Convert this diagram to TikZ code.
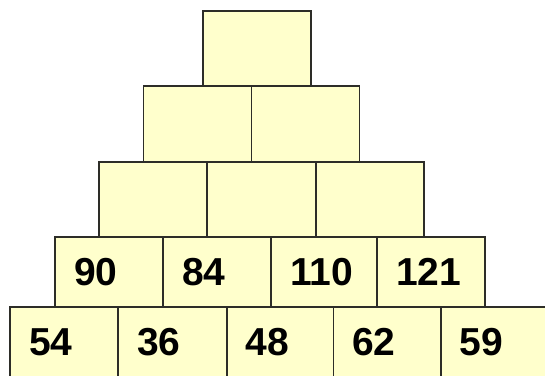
\documentclass[tikz,border=0pt]{standalone}
\usepackage{fontspec}
\setmainfont{Liberation Sans}
\definecolor{brickfill}{RGB}{255,255,204}
\definecolor{brickline}{RGB}{45,45,40}
\begin{document}
\begin{tikzpicture}[x=1pt,y=-1pt,
  brick/.style={draw=brickline, fill=brickfill, line width=1.6pt, rectangle, anchor=north west,
    inner ysep=0pt, inner xsep=19pt, outer sep=0pt, text width=70pt, align=left,
    minimum height=75pt, font=\fontsize{39}{40}\selectfont\bfseries},
  lowbrick/.style={brick, minimum height=70pt}]
\useasboundingbox (0,0) rectangle (545,375);
\clip (0,0) rectangle (545,375);
% row 1
\node[brick] (r1a) at (203,11) {};
% row 2
\node[brick, minimum height=76pt] (r2a) at (143.5,86) {};
\node[brick, minimum height=76pt] (r2b) at (251.5,86) {};
% row 3
\node[brick] (r3a) at (99,162) {};
\node[brick] (r3b) at (207.3,162) {};
\node[brick] (r3c) at (315.7,162) {};
% row 4
\node[lowbrick] (r4a) at (55,237) {90};
\node[lowbrick] (r4b) at (163.3,237) {84};
\node[lowbrick] (r4c) at (271,237) {110};
\node[lowbrick] (r4d) at (377,237) {121};
% row 5
\node[lowbrick] (r5a) at (10,307) {54};
\node[lowbrick] (r5b) at (118.3,307) {36};
\node[lowbrick] (r5c) at (226.7,307) {48};
\node[lowbrick] (r5d) at (333.3,307) {62};
\node[lowbrick] (r5e) at (440.7,307) {59};
\end{tikzpicture}
\end{document}
